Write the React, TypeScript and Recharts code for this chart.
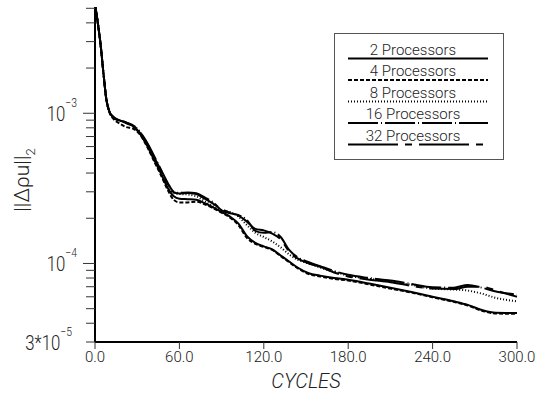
import React from "react";
import { Legend, Line, LineChart, XAxis, YAxis } from "recharts";

const cycles = [
  0, 2, 4, 6, 8, 10, 13, 17, 22, 27, 32, 37, 42, 47, 52, 56, 60, 66, 72, 78, 84, 90, 96, 102, 108, 114, 120,
  126, 132, 138, 144, 152, 160, 170, 180, 195, 210, 225, 240, 255, 265, 275, 285, 300,
];

const p2 = [
  5.3e-3, 4.0e-3, 2.85e-3, 1.85e-3, 1.25e-3, 1.04e-3, 9.4e-4, 9.0e-4, 8.7e-4, 8.2e-4, 7.3e-4, 6.1e-4, 4.9e-4,
  3.95e-4, 3.15e-4, 2.8e-4, 2.7e-4, 2.68e-4, 2.66e-4, 2.52e-4, 2.36e-4, 2.2e-4, 2.05e-4, 1.84e-4, 1.52e-4,
  1.37e-4, 1.3e-4, 1.24e-4, 1.13e-4, 1.03e-4, 9.4e-5, 8.6e-5, 8.3e-5, 8.0e-5, 7.8e-5, 7.35e-5, 6.9e-5, 6.45e-5,
  6.0e-5, 5.6e-5, 5.3e-5, 4.9e-5, 4.7e-5, 4.68e-5,
];
const p4 = [
  5.3e-3, 4.0e-3, 2.85e-3, 1.85e-3, 1.25e-3, 1.03e-3, 9.2e-4, 8.6e-4, 8.1e-4, 7.9e-4, 7.2e-4, 6.0e-4, 4.8e-4,
  3.85e-4, 3.05e-4, 2.65e-4, 2.55e-4, 2.55e-4, 2.58e-4, 2.48e-4, 2.33e-4, 2.18e-4, 2.02e-4, 1.8e-4, 1.48e-4,
  1.35e-4, 1.29e-4, 1.23e-4, 1.12e-4, 1.02e-4, 9.3e-5, 8.5e-5, 8.2e-5, 7.9e-5, 7.7e-5, 7.25e-5, 6.8e-5, 6.4e-5,
  5.95e-5, 5.55e-5, 5.25e-5, 4.85e-5, 4.65e-5, 4.62e-5,
];
const p8 = [
  5.3e-3, 4.0e-3, 2.85e-3, 1.85e-3, 1.25e-3, 1.04e-3, 9.4e-4, 9.0e-4, 8.6e-4, 8.3e-4, 7.5e-4, 6.3e-4, 5.1e-4,
  4.1e-4, 3.3e-4, 2.95e-4, 2.9e-4, 2.88e-4, 2.8e-4, 2.6e-4, 2.4e-4, 2.25e-4, 2.2e-4, 2.05e-4, 1.8e-4, 1.6e-4,
  1.5e-4, 1.4e-4, 1.28e-4, 1.15e-4, 1.06e-4, 1.0e-4, 9.4e-5, 8.8e-5, 8.3e-5, 7.9e-5, 7.6e-5, 7.2e-5, 6.8e-5,
  6.7e-5, 6.6e-5, 6.3e-5, 5.9e-5, 5.6e-5,
];
const p16 = [
  5.3e-3, 4.0e-3, 2.85e-3, 1.85e-3, 1.25e-3, 1.04e-3, 9.5e-4, 9.0e-4, 8.7e-4, 8.3e-4, 7.5e-4, 6.4e-4, 5.2e-4,
  4.2e-4, 3.4e-4, 3.0e-4, 2.95e-4, 2.97e-4, 2.93e-4, 2.75e-4, 2.55e-4, 2.26e-4, 2.16e-4, 2.1e-4, 1.95e-4,
  1.65e-4, 1.6e-4, 1.62e-4, 1.5e-4, 1.23e-4, 1.1e-4, 1.02e-4, 9.6e-5, 8.9e-5, 8.4e-5, 8.0e-5, 7.7e-5, 7.3e-5,
  6.95e-5, 6.9e-5, 7.2e-5, 6.9e-5, 6.5e-5, 6.2e-5,
];
const p32 = [
  5.3e-3, 4.0e-3, 2.85e-3, 1.85e-3, 1.25e-3, 1.04e-3, 9.4e-4, 8.9e-4, 8.6e-4, 8.2e-4, 7.4e-4, 6.3e-4, 5.1e-4,
  4.15e-4, 3.35e-4, 2.98e-4, 2.92e-4, 2.95e-4, 2.9e-4, 2.7e-4, 2.5e-4, 2.3e-4, 2.18e-4, 2.08e-4, 1.9e-4, 1.7e-4,
  1.66e-4, 1.58e-4, 1.45e-4, 1.2e-4, 1.08e-4, 1.0e-4, 9.5e-5, 8.7e-5, 8.2e-5, 7.8e-5, 7.5e-5, 7.1e-5, 6.8e-5,
  6.75e-5, 7.0e-5, 7.0e-5, 6.6e-5, 6.0e-5,
];

const xTicks = [0, 60, 120, 180, 240, 300];
const yTicks = [
  3e-5, 4e-5, 5e-5, 6e-5, 7e-5, 8e-5, 9e-5, 1e-4, 2e-4, 3e-4, 4e-4, 5e-4, 6e-4, 7e-4, 8e-4, 9e-4, 1e-3, 2e-3,
  3e-3, 4e-3, 5e-3,
];
// labelled y ticks: value -> [mantissa prefix, exponent]
const yLabels: Record<string, [string, string]> = {
  "0.001": ["10", "\u22123"],
  "0.0001": ["10", "\u22124"],
  "0.00003": ["3*10", "\u22125"],
};

const series = [
  { key: "p2", name: "2 Processors", dash: undefined },
  { key: "p4", name: "4 Processors", dash: "4 2" },
  { key: "p8", name: "8 Processors", dash: "1 2" },
  { key: "p16", name: "16 Processors", dash: "30 3 1 3" },
  { key: "p32", name: "32 Processors", dash: "50 7 7 7" },
];

const data = cycles.map((c, i) => ({ c, p2: p2[i], p4: p4[i], p8: p8[i], p16: p16[i], p32: p32[i] }));

const FONT = "Roboto, 'DejaVu Sans', sans-serif";
const TEXT = "#222";

function YTick(props: any) {
  const { x, y, payload } = props;
  const label = yLabels[String(payload.value)];
  const len = label && payload.value !== 3e-5 ? 12 : 9;
  return (
    <g>
      <line x1={x - len} x2={x} y1={y} y2={y} stroke="#333" strokeWidth={1} />
      {label && (
        <text
          transform={`translate(${payload.value === 3e-5 ? 72 : 77},${y + 8}) scale(0.8,1)`}
          textAnchor="end"
          fontFamily={FONT}
          fontWeight={300}
          fill={TEXT}
        >
          <tspan fontSize={21}>{label[0]}</tspan>
          <tspan fontSize={13} dy={-14}>
            {label[1]}
          </tspan>
        </text>
      )}
    </g>
  );
}

function LegendBox() {
  return (
    <svg width={170} height={127} style={{ display: "block" }}>
      <rect x={0.5} y={0.5} width={169} height={126} fill="#fff" stroke="#555" strokeWidth={1} />
      {series.map((s, i) => {
        const ly = 25.5 + i * 21.5;
        return (
          <g key={s.key}>
            <text x={79} y={ly - 4} textAnchor="middle" fontFamily={FONT} fontWeight={300} fontSize={15} fill={TEXT}>
              {s.name}
            </text>
            <line x1={14} x2={154} y1={ly} y2={ly} stroke="#000" strokeWidth={2} strokeDasharray={s.dash} />
          </g>
        );
      })}
    </svg>
  );
}

export default function App() {
  return (
    <div style={{ position: "absolute", left: 0, top: 0, background: "#fff" }}>
      <LineChart width={546} height={403} data={data} margin={{ top: 7, right: 29, bottom: 0, left: 0 }}>
        <XAxis
          dataKey="c"
          type="number"
          domain={[0, 300]}
          ticks={xTicks}
          tickFormatter={(v: number) => v.toFixed(1)}
          height={61}
          tickSize={7}
          tickMargin={2}
          axisLine={{ stroke: "#000", strokeWidth: 2 }}
          tickLine={{ stroke: "#333" }}
          tick={{ fontSize: 15, fontFamily: FONT, fontWeight: 300, fill: TEXT }}
          label={{
            value: "CYCLES",
            position: "insideBottom",
            offset: 15,
            fontSize: 20,
            fontFamily: FONT,
            fontWeight: 300,
            fontStyle: "italic",
            fill: TEXT,
          }}
        />
        <XAxis xAxisId="top" orientation="top" type="number" domain={[0, 300]} height={0} tick={false} tickLine={false}
          axisLine={{ stroke: "#000", strokeWidth: 2 }} />
        <YAxis
          scale="log"
          type="number"
          domain={[3e-5, 5.1e-3]}
          allowDataOverflow
          ticks={yTicks}
          interval={0}
          width={95}
          tickSize={0}
          tickMargin={0}
          tickLine={false}
          axisLine={{ stroke: "#000", strokeWidth: 2 }}
          tick={(p: any) => <YTick {...p} />}
          label={{
            content: () => (
              <text transform="translate(29,180) rotate(-90)" textAnchor="middle" fontFamily={FONT} fontWeight={300}
                fill={TEXT}>
                <tspan fontSize={21}>||Δρu||</tspan>
                <tspan fontSize={13} dy={6}>2</tspan>
              </text>
            ),
          }}
        />
        <YAxis yAxisId="right" orientation="right" width={0} tick={false} tickLine={false}
          axisLine={{ stroke: "#000", strokeWidth: 2 }} />
        <Legend
          verticalAlign="middle"
          layout="horizontal"
          content={() => <LegendBox />}
          wrapperStyle={{ position: "absolute", left: 334, top: 33, width: 170, height: 127 }}
        />
        {series.map((s) => (
          <Line
            key={s.key}
            dataKey={s.key}
            name={s.name}
            type="monotone"
            stroke="#000"
            strokeWidth={2}
            strokeDasharray={s.dash}
            dot={false}
            isAnimationActive={false}
          />
        ))}
      </LineChart>
    </div>
  );
}
